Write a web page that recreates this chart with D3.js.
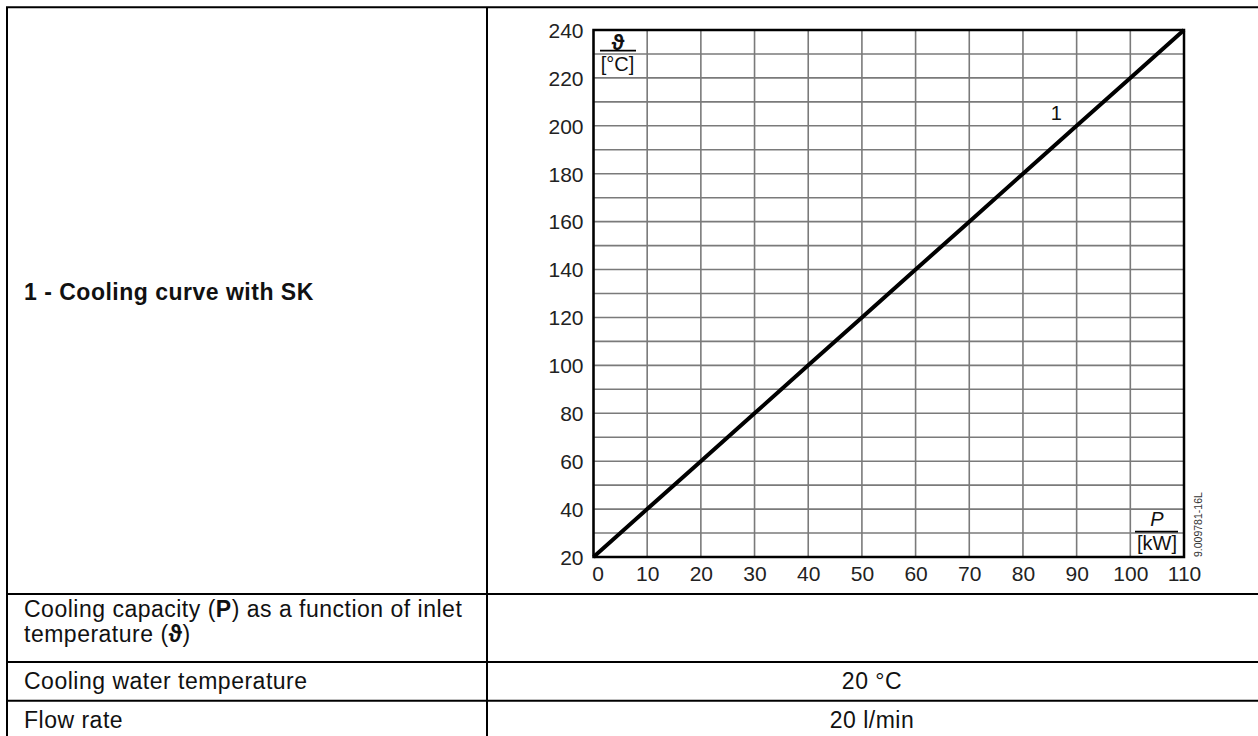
<!DOCTYPE html>
<html>
<head>
<meta charset="utf-8">
<script src="https://cdn.jsdelivr.net/npm/d3@7"></script>
<style>
  body { margin: 0; background: #fff; }
  svg { display: block; }
</style>
</head>
<body>
<div id="chart"></div>
<script>
// values
var powerKW = [0, 10, 20, 30, 40, 50, 60, 70, 80, 90, 100, 110];
var inletTemp = [20, 40, 60, 80, 100, 120, 140, 160, 180, 200, 220, 240];
var xTickLabels = [0, 10, 20, 30, 40, 50, 60, 70, 80, 90, 100, 110];
var yTickLabels = [20, 40, 60, 80, 100, 120, 140, 160, 180, 200, 220, 240];
var curveLabel = "1";

var tableRows = [
  { left: "1 - Cooling curve with SK", right: "" },
  { left: "Cooling capacity (P) as a function of inlet temperature (ϑ)", right: "" },
  { left: "Cooling water temperature", right: "20 °C" },
  { left: "Flow rate", right: "20 l/min" }
];

var width = 1258, height = 736;
var font = "'Liberation Sans', Arial, 'DejaVu Sans', sans-serif";

var svg = d3.select("#chart")
  .append("svg")
  .attr("width", width)
  .attr("height", height)
  .style("font-family", font);

// ---- table ----
var tableLeft = 7, tableRight = 1259, divider = 487;
var rowY = [7.3, 594, 662, 700.7, 739];

var tbl = svg.append("g").attr("class", "table")
  .attr("stroke", "#000")
  .attr("stroke-width", 2);

rowY.forEach(function(y) {
  tbl.append("line").attr("x1", tableLeft - 1).attr("x2", tableRight).attr("y1", y).attr("y2", y);
});
tbl.append("line").attr("x1", tableLeft).attr("x2", tableLeft).attr("y1", rowY[0]).attr("y2", rowY[4]);
tbl.append("line").attr("x1", divider).attr("x2", divider).attr("y1", rowY[0]).attr("y2", rowY[4]);
tbl.append("line").attr("x1", tableRight).attr("x2", tableRight).attr("y1", rowY[0]).attr("y2", rowY[4]);

var textX = 24;
var bodySize = 23;

// row 1 title (bold)
svg.append("text")
  .attr("x", textX)
  .attr("y", 292)
  .attr("dy", "0.35em")
  .style("font-size", bodySize + "px")
  .style("font-weight", "bold")
  .style("letter-spacing", "0.5px")
  .attr("fill", "#111")
  .text(tableRows[0].left);

// row 2, wrapped over two lines with bold P
var r2 = svg.append("text")
  .attr("x", textX)
  .attr("y", 609)
  .attr("dy", "0.35em")
  .style("font-size", bodySize + "px")
  .style("letter-spacing", "0.5px")
  .attr("fill", "#111");
r2.append("tspan").text("Cooling capacity (");
r2.append("tspan").style("font-weight", "bold").text("P");
r2.append("tspan").text(") as a function of inlet");
var r2b = svg.append("text")
  .attr("x", textX)
  .attr("y", 634)
  .attr("dy", "0.35em")
  .style("font-size", bodySize + "px")
  .style("letter-spacing", "0.5px")
  .attr("fill", "#111");
r2b.append("tspan").text("temperature (");
r2b.append("tspan").style("font-weight", "bold").text("ϑ");
r2b.append("tspan").text(")");

[2, 3].forEach(function(i) {
  var cy = (rowY[i] + rowY[i + 1]) / 2;
  svg.append("text")
    .attr("x", textX).attr("y", cy).attr("dy", "0.35em")
    .style("font-size", bodySize + "px")
    .style("letter-spacing", "0.5px")
    .attr("fill", "#111")
    .text(tableRows[i].left);
  svg.append("text")
    .attr("x", (divider + 1257) / 2).attr("y", cy).attr("dy", "0.35em")
    .attr("text-anchor", "middle")
    .style("font-size", bodySize + "px")
    .style("letter-spacing", "0.5px")
    .attr("fill", "#111")
    .text(tableRows[i].right);
});

// ---- chart ----
var x = d3.scaleLinear().domain([0, 110]).range([593.5, 1184]);
var y = d3.scaleLinear().domain([20, 240]).range([557, 30]);

var g = svg.append("g").attr("class", "plot");

// grid
g.selectAll(".vgrid")
  .data(x.ticks(11))
  .enter().append("line")
  .attr("class", "vgrid")
  .attr("x1", function(d) { return x(d); })
  .attr("x2", function(d) { return x(d); })
  .attr("y1", y(20)).attr("y2", y(240))
  .attr("stroke", "#7a7a7a")
  .attr("stroke-width", 1.6);

g.selectAll(".hgrid")
  .data(y.ticks(22))
  .enter().append("line")
  .attr("class", "hgrid")
  .attr("x1", x(0)).attr("x2", x(110))
  .attr("y1", function(d) { return y(d); })
  .attr("y2", function(d) { return y(d); })
  .attr("stroke", "#7a7a7a")
  .attr("stroke-width", 1.6);

// frame
g.append("rect")
  .attr("x", x(0)).attr("y", y(240))
  .attr("width", x(110) - x(0))
  .attr("height", y(20) - y(240))
  .attr("fill", "none")
  .attr("stroke", "#000")
  .attr("stroke-width", 2.5);

// axes (labels only, frame draws the lines)
var xAxis = g.append("g")
  .attr("transform", "translate(0," + y(20) + ")")
  .call(d3.axisBottom(x).tickValues(xTickLabels).tickSize(0).tickPadding(9));
var yAxis = g.append("g")
  .attr("transform", "translate(" + x(0) + ",0)")
  .call(d3.axisLeft(y).tickValues(yTickLabels).tickSize(0).tickPadding(10));

[xAxis, yAxis].forEach(function(a) {
  a.select(".domain").remove();
  a.selectAll("text")
    .style("font-family", font)
    .style("font-size", "21px")
    .attr("fill", "#222");
});
yAxis.selectAll("text").attr("dy", "0.35em");
// first x label sits a little right of the corner
xAxis.selectAll("text").filter(function(d) { return d === 0; }).attr("x", 4);

// the curve
var points = powerKW.map(function(p, i) { return [p, inletTemp[i]]; });
g.append("path")
  .datum(points)
  .attr("fill", "none")
  .attr("stroke", "#000")
  .attr("stroke-width", 4)
  .attr("d", d3.line()
    .x(function(d) { return x(d[0]); })
    .y(function(d) { return y(d[1]); }));

g.append("text")
  .attr("x", x(86.2)).attr("y", y(205.5))
  .attr("dy", "0.35em")
  .attr("text-anchor", "middle")
  .style("font-size", "20px")
  .attr("fill", "#111")
  .text(curveLabel);

// unit label top left
g.append("text")
  .attr("x", 618).attr("y", 42).attr("dy", "0.35em")
  .attr("text-anchor", "middle")
  .style("font-size", "22px").style("font-weight", "bold")
  .attr("fill", "#111")
  .text("ϑ");
g.append("line")
  .attr("x1", 600).attr("x2", 636).attr("y1", 50.7).attr("y2", 50.7)
  .attr("stroke", "#000").attr("stroke-width", 1.8);
g.append("text")
  .attr("x", 617.5).attr("y", 64).attr("dy", "0.35em")
  .attr("text-anchor", "middle")
  .style("font-size", "20px")
  .attr("fill", "#111")
  .text("[°C]");

// unit label bottom right
g.append("text")
  .attr("x", 1157).attr("y", 519).attr("dy", "0.35em")
  .attr("text-anchor", "middle")
  .style("font-size", "20px").style("font-style", "italic")
  .attr("fill", "#111")
  .text("P");
g.append("line")
  .attr("x1", 1135).attr("x2", 1178).attr("y1", 531.7).attr("y2", 531.7)
  .attr("stroke", "#000").attr("stroke-width", 1.8);
g.append("text")
  .attr("x", 1157).attr("y", 542.5).attr("dy", "0.35em")
  .attr("text-anchor", "middle")
  .style("font-size", "20px")
  .attr("fill", "#111")
  .text("[kW]");

// drawing number
g.append("text")
  .attr("transform", "translate(1201.5,557) rotate(-90)")
  .style("font-size", "10.5px")
  .attr("fill", "#333")
  .text("9.009781-16L");
</script>
</body>
</html>
